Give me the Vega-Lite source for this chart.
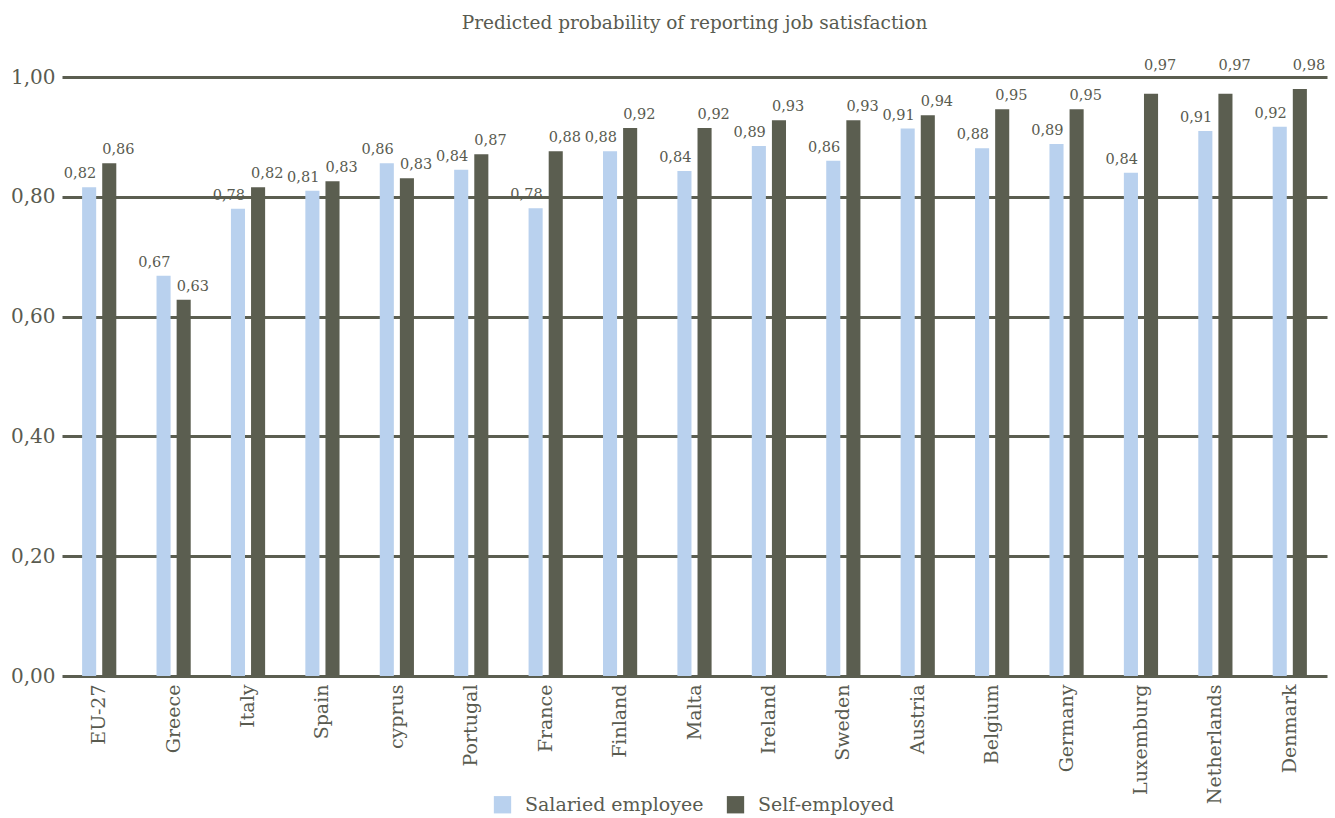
{
  "$schema": "https://vega.github.io/schema/vega-lite/v6.json",
  "autosize": "none",
  "width": 1265,
  "height": 599,
  "padding": {"left": 62, "top": 77, "right": 8, "bottom": 142},
  "background": "white",
  "config": {
    "locale": {"number": {"decimal": ",", "thousands": ".", "grouping": [3], "currency": ["", " €"]}},
    "font": "DejaVu Serif",
    "legend": {"labelFont": "DejaVu Serif"},
    "view": {"stroke": null}
  },
  "title": {
    "text": "Predicted probability of reporting job satisfaction",
    "anchor": "middle",
    "fontSize": 18.5,
    "fontWeight": "normal",
    "color": "#595B50",
    "offset": 25
  },
  "data": {
    "values": [
      {"country": "EU-27", "type": "Salaried employee", "value": 0.816},
      {"country": "EU-27", "type": "Self-employed", "value": 0.856},
      {"country": "Greece", "type": "Salaried employee", "value": 0.668},
      {"country": "Greece", "type": "Self-employed", "value": 0.628},
      {"country": "Italy", "type": "Salaried employee", "value": 0.78},
      {"country": "Italy", "type": "Self-employed", "value": 0.816},
      {"country": "Spain", "type": "Salaried employee", "value": 0.81},
      {"country": "Spain", "type": "Self-employed", "value": 0.826},
      {"country": "cyprus", "type": "Salaried employee", "value": 0.856},
      {"country": "cyprus", "type": "Self-employed", "value": 0.831},
      {"country": "Portugal", "type": "Salaried employee", "value": 0.845},
      {"country": "Portugal", "type": "Self-employed", "value": 0.871},
      {"country": "France", "type": "Salaried employee", "value": 0.781},
      {"country": "France", "type": "Self-employed", "value": 0.876},
      {"country": "Finland", "type": "Salaried employee", "value": 0.876},
      {"country": "Finland", "type": "Self-employed", "value": 0.915},
      {"country": "Malta", "type": "Salaried employee", "value": 0.843},
      {"country": "Malta", "type": "Self-employed", "value": 0.915},
      {"country": "Ireland", "type": "Salaried employee", "value": 0.885},
      {"country": "Ireland", "type": "Self-employed", "value": 0.928},
      {"country": "Sweden", "type": "Salaried employee", "value": 0.86},
      {"country": "Sweden", "type": "Self-employed", "value": 0.928},
      {"country": "Austria", "type": "Salaried employee", "value": 0.914},
      {"country": "Austria", "type": "Self-employed", "value": 0.936},
      {"country": "Belgium", "type": "Salaried employee", "value": 0.881},
      {"country": "Belgium", "type": "Self-employed", "value": 0.946},
      {"country": "Germany", "type": "Salaried employee", "value": 0.888},
      {"country": "Germany", "type": "Self-employed", "value": 0.946},
      {"country": "Luxemburg", "type": "Salaried employee", "value": 0.84},
      {"country": "Luxemburg", "type": "Self-employed", "value": 0.972},
      {"country": "Netherlands", "type": "Salaried employee", "value": 0.91},
      {"country": "Netherlands", "type": "Self-employed", "value": 0.972},
      {"country": "Denmark", "type": "Salaried employee", "value": 0.917},
      {"country": "Denmark", "type": "Self-employed", "value": 0.98}
    ]
  },
  "encoding": {
    "x": {
      "field": "country",
      "type": "nominal",
      "sort": null,
      "scale": {"paddingInner": 0, "paddingOuter": 0},
      "axis": {
        "title": null,
        "labelAngle": -90,
        "labelFontSize": 19,
        "labelColor": "#595B50",
        "labelPadding": 8,
        "ticks": false,
        "domain": false
      }
    },
    "xOffset": {
      "field": "type",
      "type": "nominal",
      "scale": {"paddingInner": 0.3, "paddingOuter": 1.01}
    },
    "y": {
      "field": "value",
      "type": "quantitative",
      "scale": {"domain": [0, 1]},
      "axis": {
        "title": null,
        "values": [0, 0.2, 0.4, 0.6, 0.8, 1],
        "format": ".2f",
        "labelFontSize": 20,
        "labelColor": "#595B50",
        "labelPadding": 7,
        "ticks": false,
        "domain": false,
        "grid": true,
        "gridColor": "#5B5E50",
        "gridWidth": 3,
        "gridOpacity": 1
      }
    }
  },
  "layer": [
    {
      "mark": {"type": "bar"},
      "encoding": {
        "color": {
          "field": "type",
          "type": "nominal",
          "scale": {"domain": ["Salaried employee", "Self-employed"], "range": ["#B9D1EE", "#5B5E50"]},
          "legend": {
            "title": null,
            "orient": "none",
            "legendX": 431,
            "legendY": 718,
            "direction": "horizontal",
            "symbolType": "square",
            "symbolSize": 300,
            "symbolStrokeWidth": 0,
            "symbolOpacity": 1,
            "labelFont": "DejaVu Serif",
            "labelFontSize": 19,
            "labelLimit": 0,
            "labelColor": "#595B50",
            "columnPadding": 22,
            "labelOffset": 13
          }
        }
      }
    },
    {
      "mark": {
        "type": "text",
        "baseline": "bottom",
        "fontSize": 14.5,
        "color": "#595B50",
        "align": {"expr": "datum.type == 'Salaried employee' ? 'right' : 'left'"},
        "dx": {"expr": "datum.type == 'Salaried employee' ? 7 : -7"},
        "dy": {"expr": "datum.value > 0.975 ? -16 : (datum.value > 0.96 ? -21 : -6)"}
      },
      "encoding": {
        "text": {"field": "value", "type": "quantitative", "format": ".2f"}
      }
    }
  ]
}
